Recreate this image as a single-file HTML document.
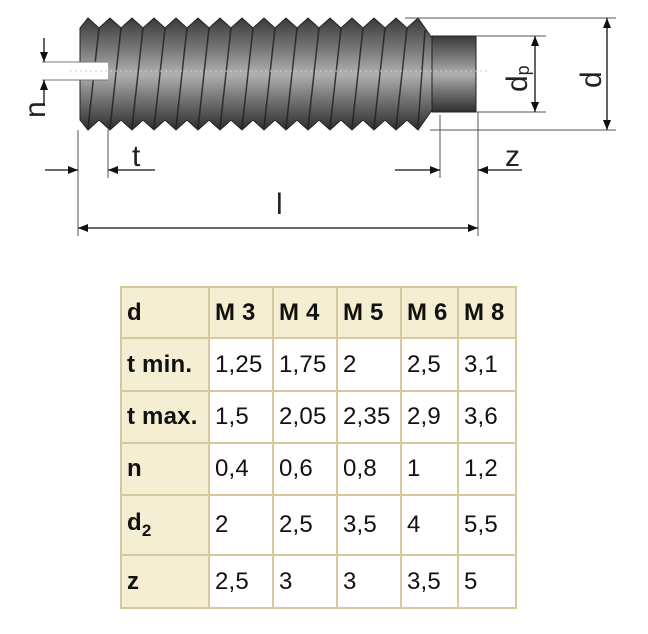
<!DOCTYPE html>
<html><head><meta charset="utf-8"><style>
body{margin:0;background:#fff;width:648px;height:634px;overflow:hidden;font-family:"Liberation Sans",Arial,sans-serif}
svg{position:absolute;left:0;top:0}
table{position:absolute;left:120px;top:286px;border-collapse:collapse;border:2px solid #d8c8a0;table-layout:fixed;width:395px}
td{border:2px solid #d8c8a0;font-size:24px;letter-spacing:0.2px;padding:0 0 0 5px;color:#111;background:#fff;white-space:nowrap;overflow:hidden}
td.h{background:#f4efd3;font-weight:bold}
</style></head><body>
<svg width="648" height="260" viewBox="0 0 648 260">
<defs>
<linearGradient id="g" x1="0" y1="0" x2="0" y2="1">
<stop offset="0" stop-color="#3a3a3a"/><stop offset="0.3" stop-color="#7d7d7d"/><stop offset="0.5" stop-color="#b0b0b0"/><stop offset="0.7" stop-color="#7a7a7a"/><stop offset="1" stop-color="#2e2e2e"/></linearGradient>
<marker id="a" markerWidth="10" markerHeight="8" refX="10" refY="4" orient="auto" markerUnits="userSpaceOnUse"><path d="M0,0 L10,4 L0,8 z" fill="#111"/></marker>
</defs>
<path d="M80,28 L88,18 L99,28 L110,18 L121,28 L132,18 L143,28 L154,18 L165,28 L176,18 L187,28 L198,18 L209,28 L220,18 L231,28 L242,18 L253,28 L264,18 L275,28 L286,18 L297,28 L308,18 L319,28 L330,18 L341,28 L352,18 L363,28 L374,18 L385,28 L396,18 L407,28 L418,18 L432,38 L432,110 L418,130 L407,120 L396,130 L385,120 L374,130 L363,120 L352,130 L341,120 L330,130 L319,120 L308,130 L297,120 L286,130 L275,120 L264,130 L253,120 L242,130 L231,120 L220,130 L209,120 L198,130 L187,120 L176,130 L165,120 L154,130 L143,120 L132,130 L121,120 L110,130 L99,120 L88,130 L80,120 Z" fill="url(#g)" stroke="#222" stroke-width="1"/>
<g stroke="#222" stroke-width="1.5" opacity="0.85">
<path d="M99,28 L88,128 M121,28 L110,128 M143,28 L132,128 M165,28 L154,128 M187,28 L176,128 M209,28 L198,128 M231,28 L220,128 M253,28 L242,128 M275,28 L264,128 M297,28 L286,128 M319,28 L308,128 M341,28 L330,128 M363,28 L352,128 M385,28 L374,128 M407,28 L396,128 M425,30 L418,126"/>
</g>
<rect x="432" y="36" width="44" height="76" fill="url(#g)" stroke="#222"/>
<rect x="42" y="62" width="66" height="18" fill="#fff"/>
<line x1="42" y1="62" x2="108" y2="62" stroke="#777"/><line x1="42" y1="80" x2="108" y2="80" stroke="#777"/>
<line x1="70" y1="71" x2="490" y2="71" stroke="#ccc" stroke-dasharray="2,3"/>
<g stroke="#555" stroke-width="1" fill="none">
<line x1="78" y1="130" x2="78" y2="236"/><line x1="108" y1="128" x2="108" y2="178"/>
<line x1="440" y1="115" x2="440" y2="178"/><line x1="478" y1="112" x2="478" y2="236"/>
<line x1="405" y1="18" x2="616" y2="18"/><line x1="430" y1="130" x2="616" y2="130"/>
<line x1="476" y1="36" x2="546" y2="36"/><line x1="476" y1="112" x2="546" y2="112"/>
</g>
<g stroke="#111" stroke-width="1.3">
<line x1="44" y1="38" x2="44" y2="62" marker-end="url(#a)"/>
<line x1="44" y1="106" x2="44" y2="80" marker-end="url(#a)"/>
<line x1="45" y1="170" x2="78" y2="170" marker-end="url(#a)"/>
<line x1="155" y1="170" x2="108" y2="170" marker-end="url(#a)"/>
<line x1="395" y1="170" x2="440" y2="170" marker-end="url(#a)"/>
<line x1="522" y1="170" x2="478" y2="170" marker-end="url(#a)"/>
<line x1="280" y1="228" x2="78" y2="228" marker-end="url(#a)"/>
<line x1="280" y1="228" x2="478" y2="228" marker-end="url(#a)"/>
<line x1="607" y1="74" x2="607" y2="18" marker-end="url(#a)"/>
<line x1="607" y1="74" x2="607" y2="130" marker-end="url(#a)"/>
<line x1="535" y1="74" x2="535" y2="36" marker-end="url(#a)"/>
<line x1="535" y1="74" x2="535" y2="112" marker-end="url(#a)"/>
</g>
<g font-family="Liberation Sans, Arial, sans-serif" font-size="30" fill="#222">
<text x="132" y="166">t</text>
<text x="505" y="166">z</text>
<text x="276" y="214">l</text>
<text transform="translate(45,118) rotate(-90)">n</text>
<text transform="translate(601,88) rotate(-90)">d</text>
<text transform="translate(527,92) rotate(-90)">d<tspan font-size="18" dy="2">p</tspan></text>
</g>
</svg>
<table>
<colgroup><col style="width:88px"><col style="width:64px"><col style="width:64px"><col style="width:64px"><col style="width:57px"><col style="width:58px"></colgroup>
<tr style="height:51px"><td class="h">d</td><td class="h">M 3</td><td class="h">M 4</td><td class="h">M 5</td><td class="h">M 6</td><td class="h">M 8</td></tr>
<tr style="height:53px"><td class="h">t min.</td><td>1,25</td><td>1,75</td><td>2</td><td>2,5</td><td>3,1</td></tr>
<tr style="height:52px"><td class="h">t max.</td><td>1,5</td><td>2,05</td><td>2,35</td><td>2,9</td><td>3,6</td></tr>
<tr style="height:52px"><td class="h">n</td><td>0,4</td><td>0,6</td><td>0,8</td><td>1</td><td>1,2</td></tr>
<tr style="height:60px"><td class="h">d<sub style="font-size:17px">2</sub></td><td>2</td><td>2,5</td><td>3,5</td><td>4</td><td>5,5</td></tr>
<tr style="height:53px"><td class="h">z</td><td>2,5</td><td>3</td><td>3</td><td>3,5</td><td>5</td></tr>
</table>
</body></html>
